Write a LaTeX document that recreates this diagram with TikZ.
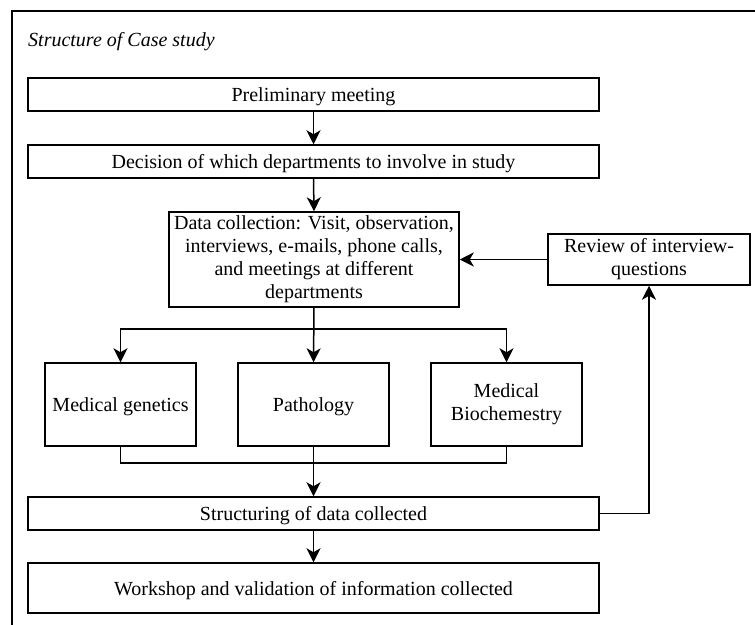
\documentclass[tikz,border=0pt]{standalone}
\usepackage{fontspec}
\setmainfont{Liberation Serif}
\usetikzlibrary{arrows.meta}
\begin{document}
\begin{tikzpicture}[x=1pt,y=-1pt,
  font=\fontsize{20}{23}\selectfont,
  every node/.style={inner sep=2pt, align=center},
  box/.style={draw, line width=1.5pt, rectangle, minimum width=#1},
  oneline/.style={text height=18.4pt, text depth=4pt},
  flow/.style={line width=1.5pt, -{Stealth[length=14pt,width=14pt,inset=4pt]}},
  link/.style={line width=1.5pt}
]
\clip (0,0) rectangle (755,624);
\fill[white] (0,0) rectangle (755,624);
% outer frame
\draw[line width=1.5pt] (12,11) rectangle (780,650);
\node[anchor=base west, font=\fontsize{20}{23}\selectfont\itshape] (title) at (26,46) {Structure of Case study};

% main column
\node[box=571pt, minimum height=33pt, oneline] (prelim) at (313.5,94.5) {Preliminary meeting};
\node[box=571pt, minimum height=33pt, oneline] (decide) at (313.5,161.5) {Decision of which departments to involve in study};
\node[box=290pt, minimum height=95pt, inner sep=1pt] (data) at (314,259.5)
  {Data collection: Visit, observation,\\ interviews, e-mails, phone calls,\\ and meetings at different\\ departments};
\node[box=202pt, minimum height=51pt] (review) at (649,259.5) {Review of interview-\\ questions};

% departments
\node[box=151pt, minimum height=83pt, oneline] (gen) at (120.5,404.5) {Medical genetics};
\node[box=151pt, minimum height=83pt, oneline] (path) at (313.5,404.5) {Pathology};
\node[box=151pt, minimum height=83pt] (bio) at (506.5,404.5) {Medical\\ Biochemestry};

\node[box=571pt, minimum height=33pt, oneline] (struct) at (313.5,513.5) {Structuring of data collected};
\node[box=571pt, minimum height=50pt, oneline] (work) at (313.5,588) {Workshop and validation of information collected};

\coordinate (split) at (313.5,329);
\coordinate (merge) at (313.5,463);

% connectors
\draw[flow] (prelim.south) -- (decide.north);
\draw[flow] (decide.south) -- (data.north);
\draw[flow] (review.west) -- (data.east);
\draw[flow] (data.south) -- (path.north);
\draw[flow] (split) -| (gen.north);
\draw[flow] (split) -| (bio.north);
\draw[link] (gen.south) |- (merge) -| (bio.south);
\draw[flow] (path.south) -- (struct.north);
\draw[flow] (struct.south) -- (work.north);
\draw[flow] (struct.east) -| (review.south);
\end{tikzpicture}
\end{document}
